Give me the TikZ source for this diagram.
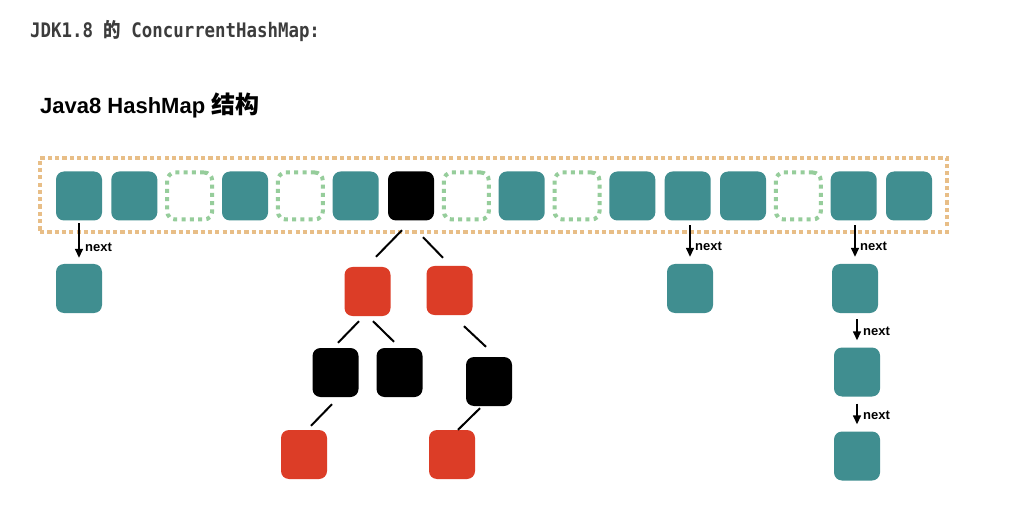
\documentclass[tikz,border=0pt]{standalone}
\usepackage{fontspec}
\usepackage{graphicx}
\setmainfont{Liberation Sans}
\newfontfamily\monofont{DejaVu Sans Mono}
\newfontfamily\cjkfont{Noto Sans CJK SC}
\usetikzlibrary{arrows.meta,calc}
\definecolor{teal1}{RGB}{64,142,144}
\definecolor{red1}{RGB}{220,61,39}
\definecolor{grn1}{RGB}{150,205,155}
\definecolor{org1}{RGB}{232,190,135}
\definecolor{txtgray}{RGB}{60,60,60}
\tikzset{
  cellbox/.style={minimum width=46pt,minimum height=49pt,inner sep=0pt,rounded corners=8pt},
  tealcell/.style={cellbox,fill=teal1},
  blackcell/.style={cellbox,fill=black},
  redcell/.style={cellbox,fill=red1},
  emptycell/.style={cellbox,minimum width=45pt,minimum height=47pt,draw=grn1,line width=4pt,dash pattern=on 4pt off 4.3pt},
  outerbox/.style={draw=org1,line width=4.2pt,dash pattern=on 4.2pt off 3.1pt},
  treeline/.style={line width=2pt,black},
  nextarrow/.style={line width=1.5pt,-{Triangle[width=8pt,length=9pt]}},
  nextlabel/.style={anchor=base west,inner sep=0pt,font=\fontsize{13}{15}\selectfont\bfseries},
}
\begin{document}
\begin{tikzpicture}[x=1pt,y=-1pt]
\useasboundingbox[fill=white] (0,0) rectangle (1022,521);
% titles
\node[anchor=base west,inner sep=0pt,text=txtgray,font=\fontsize{17.4}{20}\selectfont\bfseries] (t1) at (30,38)
  {\scalebox{1}[1.15]{\monofont JDK1.8 {\cjkfont 的} ConcurrentHashMap:}};
\node[anchor=base west,inner sep=0pt,font=\fontsize{22}{26}\selectfont\bfseries] (t2) at (40,114)
  {Java8 HashMap {\cjkfont\fontsize{24}{26}\selectfont 结构}};
% outer dotted box
\node[outerbox,minimum width=907pt,minimum height=74pt,inner sep=0pt] (outer) at (493.5,195) {};
% cells
\node[tealcell]  (c1)  at (79,196) {};
\node[tealcell]  (c2)  at (134.3,196) {};
\node[emptycell] (c3)  at (189.7,196) {};
\node[tealcell]  (c4)  at (245,196) {};
\node[emptycell] (c5)  at (300.3,196) {};
\node[tealcell]  (c6)  at (355.7,196) {};
\node[blackcell] (c7)  at (411,196) {};
\node[emptycell] (c8)  at (466.3,196) {};
\node[tealcell]  (c9)  at (521.7,196) {};
\node[emptycell] (c10) at (577,196) {};
\node[tealcell]  (c11) at (632.3,196) {};
\node[tealcell]  (c12) at (687.7,196) {};
\node[tealcell]  (c13) at (743,196) {};
\node[emptycell] (c14) at (798.3,196) {};
\node[tealcell]  (c15) at (853.7,196) {};
\node[tealcell]  (c16) at (909,196) {};
% linked lists
\node[tealcell] (n1) at (79,288.5) {};
\node[tealcell] (n2) at (690,288.5) {};
\node[tealcell] (n3) at (855,288.5) {};
\node[tealcell] (n4) at (857,372) {};
\node[tealcell] (n5) at (857,456) {};
\draw[nextarrow] ($(c1.south)+(0,2.5)$) -- ($(n1.north)+(0,-6)$);
\draw[nextarrow] ($(c12.south)+(2.3,4.5)$) -- ($(n2.north)+(0,-7)$);
\draw[nextarrow] ($(c15.south)+(1.3,4.5)$) -- ($(n3.north)+(0,-7)$);
\draw[nextarrow] ($(n3.south)+(2,6)$) -- ($(n4.north)+(0,-7)$);
\draw[nextarrow] ($(n4.south)+(0,7)$) -- ($(n5.north)+(0,-7)$);
\node[nextlabel] (l1) at (85,252) {next};
\node[nextlabel] (l2) at (695,251) {next};
\node[nextlabel] (l3) at (860,251) {next};
\node[nextlabel] (l4) at (863,335) {next};
\node[nextlabel] (l5) at (863,419) {next};
% tree
\node[redcell]   (r1) at (367.5,291.5) {};
\node[redcell]   (r2) at (449.5,290.5) {};
\node[blackcell] (b1) at (335.5,372.5) {};
\node[blackcell] (b2) at (399.5,372.5) {};
\node[blackcell] (b3) at (489,381.5) {};
\node[redcell]   (r3) at (304,454.5) {};
\node[redcell]   (r4) at (452,454.5) {};
\draw[treeline] ($(c7.south)+(-9,9.5)$) -- ($(r1.north)+(8.5,-10)$);
\draw[treeline] ($(c7.south)+(12,16.5)$) -- ($(r2.north)+(-6.5,-8)$);
\draw[treeline] ($(r1.south)+(-8.5,5)$) -- ($(b1.north)+(2.5,-5)$);
\draw[treeline] ($(r1.south)+(5.5,5)$) -- ($(b2.north)+(-5.5,-6)$);
\draw[treeline] ($(r2.south)+(14.5,11)$) -- ($(b3.north)+(-3,-10)$);
\draw[treeline] ($(b1.south)+(-3.5,7)$) -- ($(r3.north)+(7,-4)$);
\draw[treeline] ($(b3.south)+(-9,2)$) -- ($(r4.north)+(6,0)$);
\end{tikzpicture}
\end{document}
